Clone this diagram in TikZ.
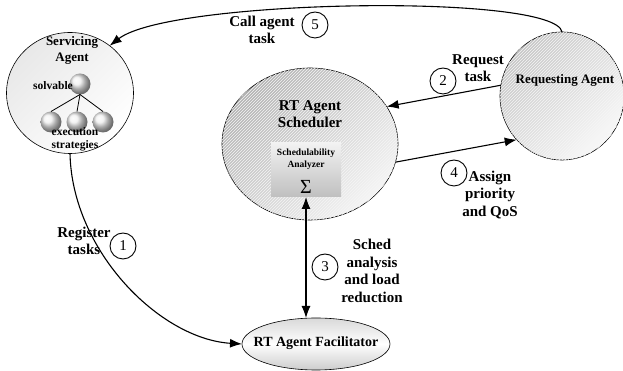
\documentclass[tikz,border=0pt]{standalone}
\usepackage{fontspec}
\setmainfont{Liberation Serif}
\usetikzlibrary{shapes.geometric,arrows.meta,patterns}
\begin{document}
\begin{tikzpicture}[x=1pt,y=1pt]
\tikzset{ >={Latex[length=12pt,width=9pt]}, inner sep=0pt, outer sep=0pt,
  agent/.style={ellipse, draw, line width=0.6pt},
  hatch/.style={postaction={pattern=north east lines, pattern color=gray!8}},
  txt/.style={font=\bfseries\fontsize{15}{17.5}\selectfont, align=center},
  small/.style={font=\bfseries\fontsize{11.5}{13}\selectfont, align=center},
  tiny/.style={font=\bfseries\fontsize{9.5}{12}\selectfont, align=center},
  num/.style={circle, draw, line width=0.9pt, minimum size=26pt, font=\fontsize{15}{15}\selectfont},
  ball/.style={circle, shading=ball, ball color=gray!12, minimum size=21pt},
  link/.style={line width=1.1pt},
}
\useasboundingbox (0,0) rectangle (623,371);
%\draw [lightgray, dashed](0,0) grid[step=10] (623,371);

\node [agent, minimum width=127pt, minimum height=121pt, top color=gray!18, bottom color=white, shading angle=45] (serv) at (70,278) {};
\node [agent, minimum width=176pt, minimum height=152pt, top color=gray!60, bottom color=gray!8, shading angle=45, hatch] (sched) at (310,227) {};
\node [agent, minimum width=124pt, minimum height=128pt, top color=gray!45, bottom color=gray!5, shading angle=45, hatch] (req) at (562,275) {};
\node [agent, minimum width=148pt, minimum height=52pt, top color=gray!30, bottom color=gray!40, middle color=white] (fac) at (316,27) {};
\node [rectangle, minimum width=70pt, minimum height=54pt, top color=gray!10, bottom color=gray!50] (ana) at (306,201) {};

\node [ball] (b0) at (80,287) {};
\node [ball] (b1) at (51,249) {};
\node [ball] (b2) at (77,249) {};
\node [ball] (b3) at (103,249) {};
\draw [line width=0.8pt] (b0.south) -- (b1.north);
\draw [line width=0.8pt] (b0.south) -- (b2.north);
\draw [line width=0.8pt] (b0.south) -- (b3.north);

\node [font=\bfseries\fontsize{13}{16}\selectfont, align=center] (servtxt) at (72,321) {Servicing\\Agent};
\node [small] (solv) at (53,285) {solvable};
\node [small] (exec) at (75,232) {execution\\strategies};
\node [txt] (schedtxt) at (310,257) {RT Agent\\Scheduler};
\node [tiny] (anatxt) at (306,212) {Schedulability\\Analyzer};
\node [font=\fontsize{20}{20}\selectfont] (sigma) at (306,184) {Σ};
\node [font=\bfseries\fontsize{13}{16}\selectfont] (reqtxt) at (565,291) {Requesting Agent};
\node [font=\bfseries\fontsize{14}{16}\selectfont] (factxt) at (316,28) {RT Agent Facilitator};

\draw [link, ->] (req.north) .. controls (555,378) and (170,372) .. (serv.50);
\draw [link, ->] (req.170) -- (sched.26);
\draw [link, ->] (sched.-12) -- (req.224);
\draw [link, <->] (ana.south) -- (ana.south |- fac.north);
\draw [link, ->] (serv.south) .. controls (72,120) and (160,32) .. (fac.west);

\node [num] (n5) at (315,346) {5};
\node [num] (n2) at (443,290) {2};
\node [num] (n4) at (454,198) {4};
\node [num] (n3) at (325,104) {3};
\node [num] (n1) at (123,125) {1};

\node [txt] (calllbl) at (262,341) {Call agent\\task};
\node [txt] (reqlbl) at (478,303) {Request\\task};
\node [txt] (asslbl) at (490,176) {Assign\\priority\\and QoS};
\node [txt] (anlbl) at (372,100) {Sched\\analysis\\and load\\reduction};
\node [txt] (reglbl) at (84,130) {Register\\tasks};
\end{tikzpicture}
\end{document}
